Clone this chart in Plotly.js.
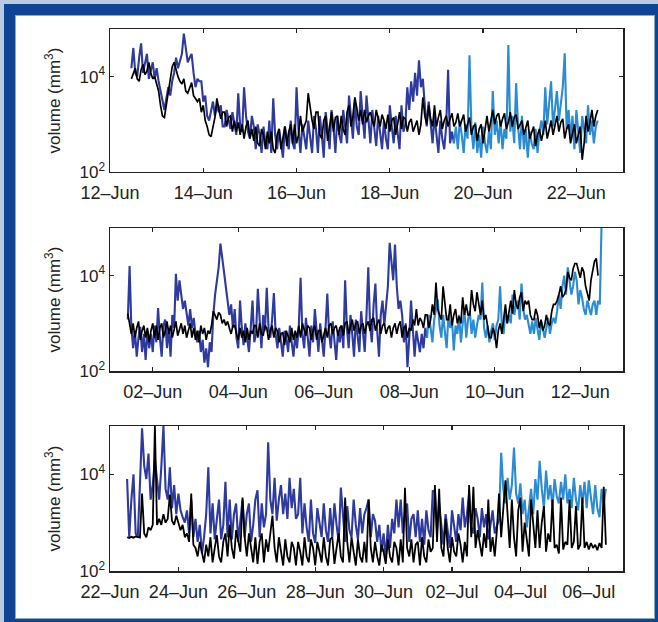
<!DOCTYPE html>
<html>
<head>
<meta charset="utf-8">
<script src="https://cdn.plot.ly/plotly-3.0.1.min.js"></script>
<style>
  html, body { margin:0; padding:0; }
  #frame { position:absolute; left:0; top:0; width:658px; height:622px; background:#0d4593; overflow:hidden; }
  #edgeTop { position:absolute; left:0; top:0; width:658px; height:4px; background:#b9cbe3; }
  #edgeLeft { position:absolute; left:0; top:0; width:4px; height:622px; background:#b9cbe3; }
  #inner { position:absolute; left:15px; top:15px; width:638px; height:602px; background:#fff; border:1px solid #8ea8cc; }
  #chart { position:absolute; left:0; top:0; width:658px; height:622px; }
</style>
</head>
<body>
<div id="frame">
  <div id="edgeTop"></div>
  <div id="edgeLeft"></div>
  <div id="inner"></div>
  <div id="chart"></div>
</div>
<script>
// ---------------- DATA ----------------
// Panel 1 (12-Jun .. 23-Jun), samples every 1 h
const p1Start = Date.UTC(2011, 5, 12, 11);
const p1LightStart = Date.UTC(2011, 5, 19, 9);
const p1Step = 1;
const p1Black = [
  9000,12000,15000,9000,8000,14000,18000,11000,13000,20000,12000,9000,
  10000,7000,5000,2500,1500,1400,2500,5000,9000,16000,20000,14000,
  10000,8000,7000,9000,5000,4500,6000,7500,4000,3500,3000,3500,
  1800,2500,1200,900,600,550,900,1400,3500,2000,1300,1800,
  1800,900,1400,1500,700,1200,700,1100,600,1000,500,900,
  1200,500,800,450,900,400,350,800,600,300,700,400,
  700,300,250,600,800,300,500,900,350,700,1000,400,
  1000,400,600,1500,700,900,1200,4500,2000,1200,800,1800,
  1800,600,500,1200,1500,450,900,1800,700,1400,1500,600,
  1500,800,600,1800,2500,900,1500,3700,2200,1200,2000,1000,
  2000,1100,1500,1800,1200,900,2000,1300,900,1600,1200,800,
  1600,700,1200,1400,600,1000,1800,800,1400,1300,700,1100,
  1300,700,900,1200,600,1000,3700,1500,1000,2500,1300,900,
  2500,900,1400,2000,800,1200,1500,900,1300,1700,900,1100,
  1700,900,1200,1600,700,1000,1400,600,900,1000,450,800,
  1000,400,700,1500,700,1200,2000,1000,1500,1700,900,1300,
  1700,800,1100,1800,900,1400,1600,800,1000,1200,600,900,
  1200,500,700,900,350,600,800,450,700,1200,500,800,
  1200,600,1000,1500,700,1100,1300,500,800,1000,400,700,
  1000,400,600,900,180,400,1500,700,1100,2000,900,1500,
  2000];
const p1Blue = [
  15000,40000,12000,10000,25000,50000,12000,20000,30000,9000,14000,20000,
  9000,15000,8000,5000,3000,2000,3500,6000,4000,8000,12000,25000,
  15000,20000,30000,80000,35000,20000,25000,30000,12000,6000,9000,8000,
  8000,3000,4000,1500,1200,2000,3000,1500,2500,1800,2500,900,
  900,2000,1200,800,1800,1000,600,4500,900,700,6000,1500,
  700,500,1500,900,300,1000,600,250,900,400,300,1200,
  250,3500,600,300,800,400,200,900,500,300,1200,400,
  300,6000,800,250,1000,600,300,1200,500,250,1500,800,
  250,1500,600,200,1800,700,300,2000,900,250,1500,600,
  400,2000,800,400,4000,1200,500,3000,900,600,5000,1500,
  500,4000,1300,400,2000,800,350,1500,700,300,1200,500,
  300,2500,900,400,1500,600,300,2500,700,1000,6000,2000,
  8000,3000,12000,4000,22000,6000,9000,2500,900,3000,1200,400,
  1500,700,250,1200,500,300,900,14000,400,700,400];
const p1Light = [
  400,900,300,1200,600,250,1000,500,28000,800,300,1100,
  250,600,200,900,400,250,700,300,5000,600,1200,400,
  1200,300,800,500,46000,700,1500,400,7300,900,300,1500,
  300,800,200,700,400,300,800,250,700,1200,600,6000,
  1000,3000,8000,900,2500,5000,1200,3000,6000,31000,800,2000,
  500,1500,300,2000,700,250,1500,800,400,2500,600,1200,
  400,900,1200];

// Panel 2 (01-Jun .. 13-Jun), samples every 1 h
const p2Start = Date.UTC(2011, 5, 1, 10);
const p2LightStart = Date.UTC(2011, 5, 8, 10);
const p2Step = 1;
const p2Black = [
  1600,900,600,1000,500,800,1100,450,700,900,500,800,
  400,700,1000,500,900,450,800,1000,500,700,1100,600,
  900,500,700,1100,550,800,1000,600,900,500,700,1000,
  500,800,450,700,400,900,600,800,450,700,600,900,
  1800,1400,1200,1700,1500,1000,1200,900,1100,800,600,900,
  900,600,450,800,500,700,400,800,450,700,600,900,
  900,500,1000,600,550,900,800,450,700,900,500,800,
  700,400,600,650,350,700,500,400,800,450,700,500,
  900,500,1000,700,550,900,800,450,700,900,450,700,
  700,400,600,800,500,900,1000,600,800,900,550,800,
  900,550,1000,1100,600,900,1200,700,1000,1100,600,900,
  1000,600,900,1100,700,1200,1300,700,1000,1200,600,900,
  1000,600,800,900,500,800,1000,600,900,1100,500,800,
  900,500,800,700,1200,900,2000,900,1300,1100,800,1500,
  1500,800,1200,2500,1500,7200,2000,1500,1200,6000,2500,1200,
  1200,2500,900,1500,2000,1000,1400,1000,3500,1500,2500,1500,
  1500,5000,2500,1800,4500,2500,1500,3000,1200,1500,800,500,
  500,800,600,300,700,1000,600,1200,2500,1000,1600,3000,
  1600,5000,2500,2000,3500,4500,1800,3000,2500,3000,1500,1200,
  1200,2000,1500,800,1200,700,900,1500,1000,900,1800,2500,
  2500,3000,4000,6000,3500,4000,5000,12000,9000,8000,14000,18000,
  18000,12000,9000,15000,12000,6000,4000,3000,8000,12000,20000,23000,
  10000];
const p2Blue = [
  1200,16000,800,300,700,200,500,850,250,600,170,700,
  300,600,250,900,400,2100,500,200,900,1200,300,800,
  200,1500,800,11000,3000,8000,4000,2000,3000,1500,900,2000,
  800,1300,600,400,700,250,450,150,300,120,400,250,
  1500,4000,8000,15000,47000,20000,12000,6000,3000,1500,2500,800,
  2000,500,300,3000,800,350,1000,500,250,800,3000,400,
  600,5300,900,300,1500,700,5600,800,500,1200,4300,600,
  300,800,400,200,700,500,250,900,400,200,600,300,
  900,9000,600,300,1300,500,200,900,400,2000,600,250,
  1000,400,200,800,4200,600,300,1100,500,170,700,400,
  900,300,8000,800,300,1500,600,200,1200,500,250,1800,
  600,250,1500,15000,900,400,2500,6800,700,200,1500,3000,
  900,2000,6000,49000,20000,8000,45000,6000,2000,3000,1500,400,
  1000,120,500,3000,800,200,700,400,250,600,300,800,
  500];
const p2Light = [
  500,1500,800,400,1200,2200,3200,900,500,1500,700,300,
  1500,800,1200,270,900,600,1500,400,1000,1800,500,1200,
  1800,600,1200,500,900,1500,1200,7200,800,500,900,400,
  700,1000,450,900,1200,6000,900,600,2000,1000,1500,1000,
  4000,1500,2500,3000,1200,6800,2000,1200,1500,900,600,1100,
  600,1300,700,450,1100,800,500,900,1300,600,1000,1300,
  1000,1800,4000,2000,6000,10000,4000,15000,8000,4000,6000,12000,
  8000,2500,5000,3500,2000,1500,3000,2000,1500,2500,3000,1500,
  3000,2500,150000];

// Panel 3 (22-Jun .. 07-Jul), samples every 1.5 h
const p3Start = Date.UTC(2011, 5, 22, 12);
const p3LightStart = Date.UTC(2011, 6, 3, 9);
const p3Step = 1.5;
const p3Black = [
  500,480,510,490,520,500,490,4000,600,500,800,700,900,100000,900,1200,
  900,1500,1000,1200,3800,1100,900,1400,1000,700,900,500,600,400,4000,350,
  300,200,400,250,150,350,200,500,150,300,550,200,150,400,600,200,
  900,300,180,700,400,250,3300,500,200,600,300,150,500,140,400,600,
  150,450,250,600,1400,300,150,500,250,130,450,200,150,400,300,130,
  400,250,130,500,200,150,450,300,130,400,250,150,500,200,130,450,
  500,140,300,600,200,150,3300,400,150,500,250,130,450,200,150,400,
  150,3000,300,150,400,200,130,350,250,140,450,200,150,400,300,130,
  450,150,5300,300,200,450,150,350,400,130,500,200,150,450,250,300,
  6000,400,5000,300,200,1200,300,150,500,250,200,600,350,150,400,200,
  6000,500,5500,300,700,400,200,600,300,3000,250,500,200,700,4000,500,
  2000,7500,1500,300,3000,500,200,1800,3300,250,1000,400,200,3000,800,300,
  1800,300,1000,2200,250,600,400,3000,300,350,230,3300,280,400,350,3000,
  300,400,2200,280,350,3300,300,400,280,380,300,350,270,380,300,5500,
  350];
const p3Blue = [
  8000,500,3000,10000,600,500,6000,90000,15000,8000,27000,3000,6000,20000,8000,3000,
  14000,100000,5000,3000,14000,2000,6000,1500,4000,1800,1300,1000,1800,600,3000,500,
  1200,400,900,230,500,1500,14000,600,2500,450,1200,3000,450,900,7000,500,
  3000,450,1500,2500,400,1200,3000,500,1500,2500,400,900,3000,4700,500,2500,
  800,1500,46000,3000,1500,8500,1100,3000,6000,1500,4000,1200,8500,2000,5000,1200,
  1500,8500,600,2500,800,400,3000,600,380,2000,900,500,2500,700,400,2000,
  500,2500,900,400,5300,1200,400,2200,700,500,3000,900,450,2000,600,1500,
  2000,3000,500,1500,1100,400,900,250,600,180,900,300,1200,600,3000,800,
  3000,600,1500,2500,400,1200,1500,500,1800,400,1200,350,1800,700,500,4500,
  4500,700,2500,900,350,1500,600,300,1800,900,400,1500,700,3300,800,1500,
  4000,800,600,2000,1200,500,2000,800,1500,450,1000,1800,600,900,1200];
const p3Light = [
  1200,28000,5000,2500,8500,3000,6000,36000,4000,2500,6500,1500,3000,800,2000,5000,
  1500,8000,3000,19000,5000,2000,12000,3000,6000,2100,8000,3500,2500,7000,3000,10000,
  2500,5000,2000,8500,3000,1800,6000,2500,7000,2000,7500,3000,1500,6000,2000,1300,
  5000,2500,5000];

// Tick labels
const p1TickVals = ['2011-06-12','2011-06-14','2011-06-16','2011-06-18','2011-06-20','2011-06-22'];
const p1TickText = ['12–Jun','14–Jun','16–Jun','18–Jun','20–Jun','22–Jun'];
const p2TickVals = ['2011-06-02','2011-06-04','2011-06-06','2011-06-08','2011-06-10','2011-06-12'];
const p2TickText = ['02–Jun','04–Jun','06–Jun','08–Jun','10–Jun','12–Jun'];
const p3TickVals = ['2011-06-22','2011-06-24','2011-06-26','2011-06-28','2011-06-30','2011-07-02','2011-07-04','2011-07-06'];
const p3TickText = ['22–Jun','24–Jun','26–Jun','28–Jun','30–Jun','02–Jul','04–Jul','06–Jul'];
const yTickVals = [100, 10000];
const yTickText = ['10<sup>2</sup>', '10<sup>4</sup>'];

// ---------------- CHART ----------------
function times(start, stepHours, n) {
  const out = [];
  for (let i = 0; i < n; i++) out.push(start + i * stepHours * 3600000);
  return out;
}
const BLACK = '#000000', DARK = '#2e3a9e', LIGHT = '#2b8bd3';
function tr(start, step, vals, color, width, xa, ya) {
  return { x: times(start, step, vals.length), y: vals, type: 'scatter', mode: 'lines',
    line: { color: color, width: width, shape: 'linear' }, xaxis: xa, yaxis: ya, hoverinfo: 'skip' };
}
const traces = [
  tr(p1Start, p1Step, p1Blue, DARK, 2.1, 'x', 'y'),
  tr(p1LightStart, p1Step, p1Light, LIGHT, 2.1, 'x', 'y'),
  tr(p1Start, p1Step, p1Black, BLACK, 1.7, 'x', 'y'),
  tr(p2Start, p2Step, p2Blue, DARK, 2.1, 'x2', 'y2'),
  tr(p2LightStart, p2Step, p2Light, LIGHT, 2.1, 'x2', 'y2'),
  tr(p2Start, p2Step, p2Black, BLACK, 1.7, 'x2', 'y2'),
  tr(p3Start, p3Step, p3Blue, DARK, 2.1, 'x3', 'y3'),
  tr(p3LightStart, p3Step, p3Light, LIGHT, 2.1, 'x3', 'y3'),
  tr(p3Start, p3Step, p3Black, BLACK, 1.8, 'x3', 'y3')
];

const fontFam = 'Liberation Sans, Arial, Helvetica, sans-serif';
function xax(range, tv, tt, anchor) {
  return { type: 'date', range: range, tickmode: 'array', tickvals: tv, ticktext: tt, tickangle: 0,
    anchor: anchor, domain: [0, 1], showgrid: false, zeroline: false,
    showline: true, linecolor: '#222', linewidth: 1.5, mirror: 'ticks',
    ticks: 'inside', ticklen: 4, tickwidth: 1.2, tickcolor: '#222', ticklabelstandoff: 4,
    tickfont: { family: fontFam, size: 18, color: '#222' }, fixedrange: true };
}
function yax(domain, anchor) {
  return { type: 'log', range: [2, 5], domain: domain, anchor: anchor,
    tickmode: 'array', tickvals: yTickVals, ticktext: yTickText,
    showgrid: false, zeroline: false, showline: true, linecolor: '#222', linewidth: 1.5,
    mirror: 'ticks', ticks: 'inside', ticklen: 4, tickwidth: 1.2, tickcolor: '#222',
    tickfont: { family: fontFam, size: 17, color: '#222' },
    title: { text: 'volume (mm<sup>3</sup>)', font: { family: fontFam, size: 17, color: '#222' }, standoff: 14 },
    fixedrange: true };
}
const layout = {
  width: 658, height: 622,
  margin: { l: 110, r: 35, t: 29, b: 51 },
  paper_bgcolor: 'rgba(0,0,0,0)', plot_bgcolor: '#ffffff',
  showlegend: false,
  font: { family: fontFam, color: '#222' },
  xaxis: xax(['2011-06-12', '2011-06-23'], p1TickVals, p1TickText, 'y'),
  yaxis: yax([0.7362, 1], 'x'),
  xaxis2: xax(['2011-06-01', '2011-06-13'], p2TickVals, p2TickText, 'y2'),
  yaxis2: yax([0.369, 0.6328], 'x2'),
  xaxis3: xax(['2011-06-22', '2011-07-07'], p3TickVals, p3TickText, 'y3'),
  yaxis3: yax([0, 0.2675], 'x3')
};
Plotly.newPlot('chart', traces, layout, { staticPlot: true, displayModeBar: false });
</script>
</body>
</html>
